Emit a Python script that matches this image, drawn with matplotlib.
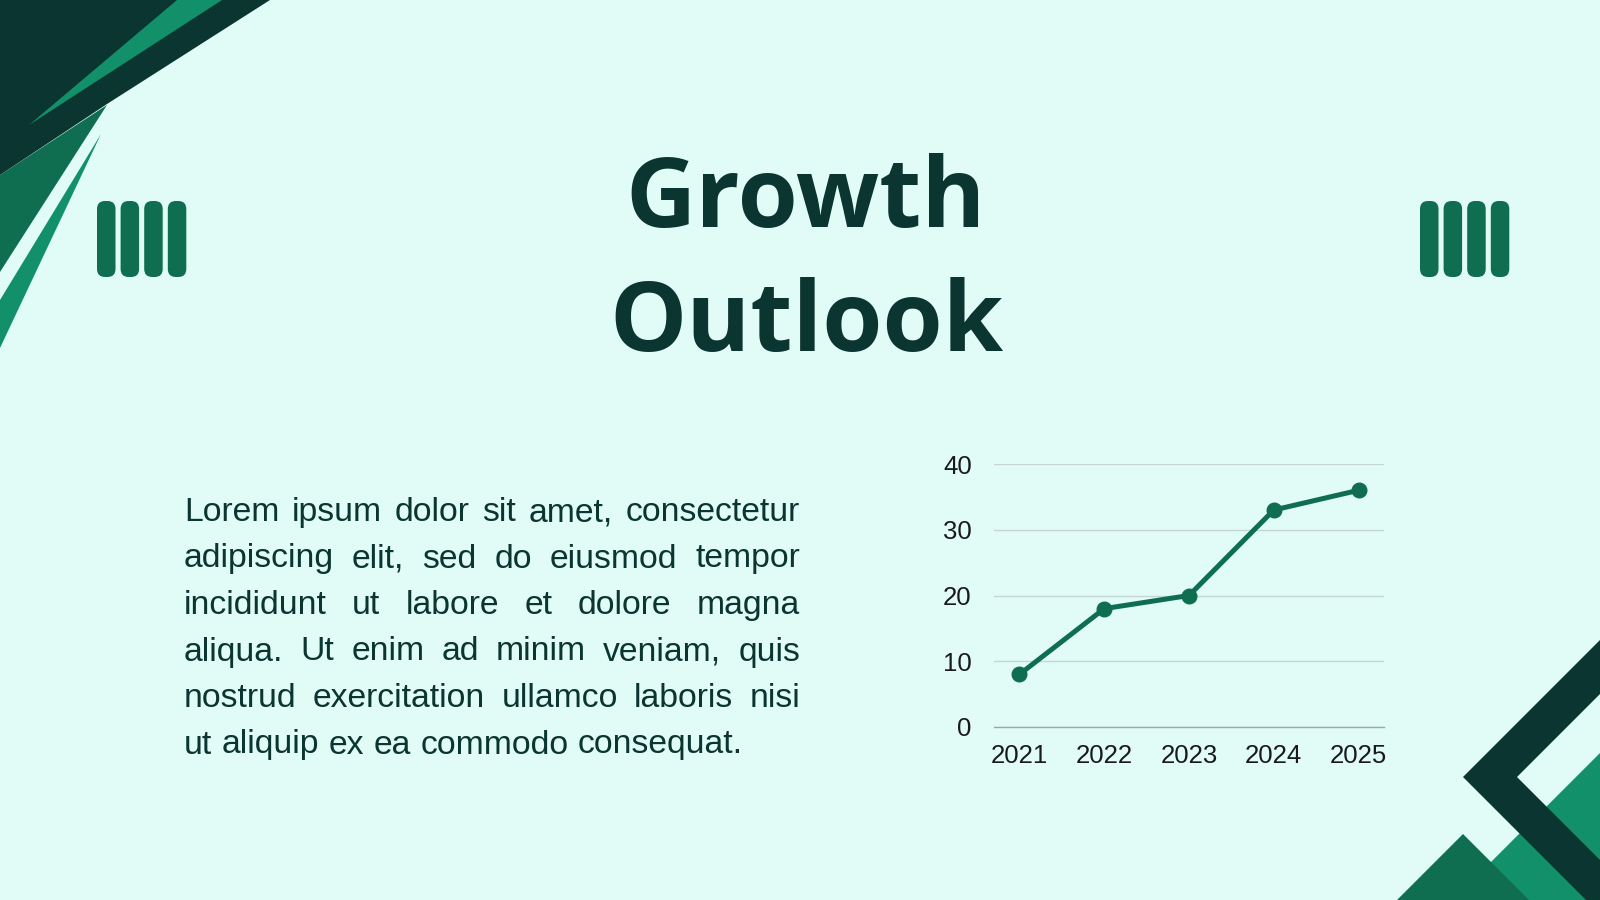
import matplotlib
matplotlib.use('Agg')
import matplotlib.pyplot as plt
from matplotlib.patches import Polygon, FancyBboxPatch

# data
years = ['2021', '2022', '2023', '2024', '2025']
values = [8, 18, 20, 33, 36]
y_ticks = [0, 10, 20, 30, 40]

title_lines = ['Growth', 'Outlook']
body_lines = [
    'Lorem ipsum dolor sit amet, consectetur',
    'adipiscing elit, sed do eiusmod tempor',
    'incididunt ut labore et dolore magna',
    'aliqua. Ut enim ad minim veniam, quis',
    'nostrud exercitation ullamco laboris nisi',
    'ut aliquip ex ea commodo consequat.',
]

bg = '#e1fcf6'
dark = '#0b3530'
mid = '#106e50'
bright = '#12906a'

fig = plt.figure(figsize=(16, 9), dpi=100)
fig.patch.set_facecolor(bg)

# page layer in pixel coords
page = fig.add_axes([0, 0, 1, 1])
page.set_xlim(0, 1600)
page.set_ylim(900, 0)
page.axis('off')
page.set_facecolor(bg)

# top left decoration
page.add_patch(Polygon([(107, 105), (0, 175), (0, 272)], closed=True, color=mid, lw=0))
page.add_patch(Polygon([(0, 0), (270, 0), (107, 104), (0, 175)], closed=True, color=dark, lw=0))
page.add_patch(Polygon([(29, 125), (177, 0), (222, 0)], closed=True, color=bright, lw=0))
page.add_patch(Polygon([(101, 134), (0, 300), (0, 348)], closed=True, color=bright, lw=0))

# bottom right decoration
page.add_patch(Polygon([(1453, 900), (1600, 753), (1600, 900)], closed=True, color=bright, lw=0))
page.add_patch(Polygon([(1397, 900), (1463, 834), (1529, 900)], closed=True, color=mid, lw=0))
page.add_patch(Polygon([(1600, 640), (1463, 777), (1600, 914), (1600, 860), (1517, 777), (1600, 694)],
                       closed=True, color=dark, lw=0))

# pill icons
for x0 in [97, 1420]:
    for i in range(4):
        page.add_patch(FancyBboxPatch((x0 + i * 23.6, 201), 18.5, 76,
                                      boxstyle='round,pad=0,rounding_size=8',
                                      color=mid, lw=0))

# title
for i, line in enumerate(title_lines):
    page.text(806, 227 + i * 124, line, ha='center', va='baseline',
              fontsize=70, fontweight='bold', family='Open Sans', color=dark)

# justified body text
renderer = fig.canvas.get_renderer()
left, right = 184, 800
base_y = 521
line_gap = 46.5
fs = 24.3
probe_a = page.text(0, 0, 'a a', fontsize=fs, family='Liberation Sans')
probe_b = page.text(0, 0, 'aa', fontsize=fs, family='Liberation Sans')
nat_space = probe_a.get_window_extent(renderer).width - probe_b.get_window_extent(renderer).width
probe_a.remove()
probe_b.remove()
for i, line in enumerate(body_lines):
    words = line.split(' ')
    y = base_y + i * line_gap
    arts = [page.text(0, y, w, ha='left', va='baseline', fontsize=fs,
                      family='Liberation Sans', color=dark) for w in words]
    widths = [a.get_window_extent(renderer).width for a in arts]
    if i == len(body_lines) - 1:
        space = nat_space
    else:
        space = (right - left - sum(widths)) / (len(words) - 1)
    x = left
    for a, wdt in zip(arts, widths):
        a.set_x(x)
        x += wdt + space

# chart
ax = fig.add_axes([994 / 1600, 173 / 900, 390 / 1600, 263 / 900])
ax.set_facecolor('none')
xs = range(len(years))
ax.plot(xs, values, color=mid, lw=3.6, marker='o', markersize=10.5, solid_capstyle='round')
ax.set_xlim(-0.3, 4.3)
ax.set_ylim(0, 40)
ax.set_yticks(y_ticks)
ax.set_xticks(list(xs))
ax.set_xticklabels(years)
ax.grid(axis='y', color='#c4d6cf', lw=1)
ax.set_axisbelow(True)
for s in ['top', 'right', 'left']:
    ax.spines[s].set_visible(False)
ax.spines['bottom'].set_color('#9aa8a3')
ax.spines['bottom'].set_linewidth(1)
ax.tick_params(axis='both', length=0, labelsize=18.5, labelcolor='#1a1a1a')
ax.tick_params(axis='y', pad=16)
ax.tick_params(axis='x', pad=12)
for lab in ax.get_xticklabels() + ax.get_yticklabels():
    lab.set_family('Liberation Sans')

fig.savefig('out.png', dpi=100, facecolor=bg)
